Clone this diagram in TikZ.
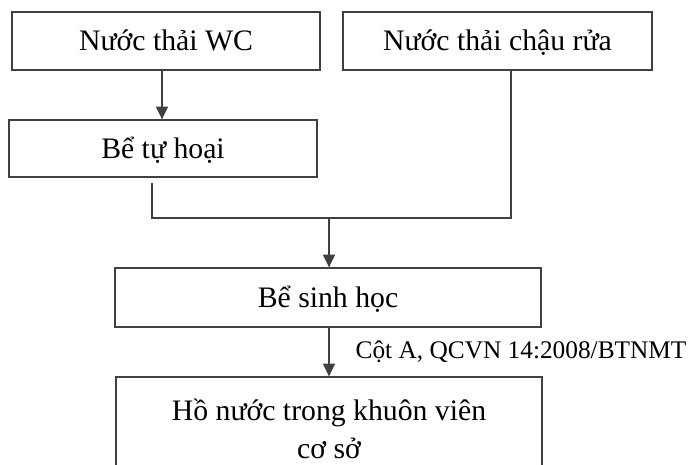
\documentclass[tikz,border=0pt]{standalone}
\usepackage{fontspec}
\setmainfont{Liberation Serif}
\usetikzlibrary{arrows.meta}
\begin{document}
\begin{tikzpicture}[x=0.75pt,y=-0.75pt,
  boxnode/.style={draw=black!75, line width=1pt, rectangle, inner sep=0pt, align=center,
    font=\fontsize{22.3}{29}\selectfont},
  onel/.style={boxnode, text height=20pt, text depth=5.3pt},
  conn/.style={draw=black!75, line width=1pt},
  arr/.style={conn, -{Triangle[width=9pt,length=9.5pt]}},
  lbl/.style={font=\fontsize{19}{23}\selectfont, inner sep=0pt, anchor=west}]
\useasboundingbox (0,0) rectangle (691,464);
\node[onel, minimum width=308*0.75pt, minimum height=58*0.75pt] (wc) at (166,41) {Nước thải WC};
\node[onel, minimum width=309*0.75pt, minimum height=58*0.75pt] (cr) at (497.5,41) {Nước thải chậu rửa};
\node[onel, minimum width=308*0.75pt, minimum height=57*0.75pt] (th) at (163,148.5) {Bể tự hoại};
\node[onel, minimum width=426*0.75pt, minimum height=59*0.75pt] (sh) at (328,297.5) {Bể sinh học};
\node[boxnode, minimum width=426*0.75pt, minimum height=104*0.75pt] (ho) at (329,429) {Hồ nước trong khuôn viên\\cơ sở};
\coordinate (j) at (329,218);
\draw[arr] ([xshift=-3pt]wc.south) -- ([xshift=-3pt]wc.south |- th.north);
\draw[conn] ([xshift=-8.25pt,yshift=-4pt]th.south) |- (j);
\draw[conn] ([xshift=10.1pt]cr.south) |- (j);
\draw[arr] (j) -- (j |- sh.north);
\draw[arr] ([xshift=0.75pt]sh.south) -- ([xshift=0.75pt]sh.south |- ho.north)
  node[lbl, pos=0.5, xshift=19.5pt] (lab) {Cột A, QCVN 14:2008/BTNMT};
\end{tikzpicture}
\end{document}
